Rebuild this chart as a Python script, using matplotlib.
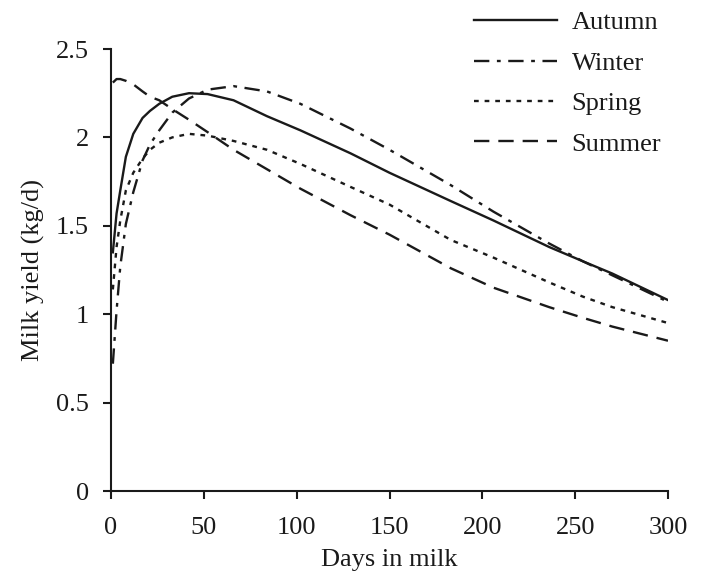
import numpy as np
import matplotlib
matplotlib.use('Agg')
import matplotlib.pyplot as plt

plt.rcParams['font.family'] = ['Liberation Serif', 'DejaVu Serif']
plt.rcParams['font.size'] = 19

# days in milk at which the curves were read
days = [1, 3, 5, 8, 12, 17, 21, 26, 33, 42, 52, 66, 84, 102, 129, 150, 183, 206, 236, 254, 270, 300]

autumn = [1.35, 1.57, 1.70, 1.89, 2.02, 2.11, 2.15, 2.19, 2.23, 2.25, 2.245, 2.21, 2.12, 2.04,
          1.91, 1.80, 1.64, 1.53, 1.38, 1.30, 1.23, 1.08]
winter = [0.72, 1.02, 1.27, 1.51, 1.69, 1.87, 1.96, 2.04, 2.14, 2.22, 2.27, 2.29, 2.26, 2.19,
          2.05, 1.93, 1.73, 1.58, 1.40, 1.30, 1.22, 1.07]
spring = [1.14, 1.38, 1.53, 1.70, 1.80, 1.88, 1.93, 1.97, 2.00, 2.02, 2.01, 1.98, 1.93, 1.85,
          1.72, 1.62, 1.42, 1.32, 1.18, 1.10, 1.04, 0.95]
summer = [2.31, 2.33, 2.33, 2.32, 2.30, 2.26, 2.23, 2.21, 2.16, 2.10, 2.03, 1.93, 1.82, 1.71,
          1.56, 1.45, 1.26, 1.15, 1.04, 0.98, 0.93, 0.85]

labels = ['Autumn', 'Winter', 'Spring', 'Summer']

fig = plt.figure(figsize=(7.06, 5.75), dpi=100)
ax = fig.add_axes([111 / 706, 1 - 491 / 575, 557 / 706, 442 / 575])

col = '#1a1a1a'
lw = 1.7
ax.plot(days, autumn, color=col, lw=lw, ls='-', label=labels[0])
ax.plot(days, winter, color=col, lw=lw, ls=(0, (6.5, 3.2, 1.6, 3.2)), label=labels[1])
ax.plot(days, spring, color=col, lw=lw, ls=(0, (2, 2.5)), label=labels[2])
ax.plot(days, summer, color=col, lw=lw, ls=(0, (6.5, 3.8)), label=labels[3])

ax.set_xlim(0, 300)
ax.set_ylim(0, 2.5)
ax.set_xticks([0, 50, 100, 150, 200, 250, 300])
ax.set_yticks([0, 0.5, 1, 1.5, 2, 2.5])
ax.set_yticklabels(['0', '0.5', '1', '1.5', '2', '2.5'])
ax.spines['top'].set_visible(False)
ax.spines['right'].set_visible(False)
for s in ('left', 'bottom'):
    ax.spines[s].set_linewidth(1.5)
    ax.spines[s].set_color(col)
ax.tick_params(direction='out', length=6, width=1.5, colors=col, labelcolor=col, labelsize=19)
ax.tick_params(axis='x', pad=13)
ax.tick_params(axis='y', pad=10)

ax.set_xlabel('Days in milk', fontsize=19, color=col, labelpad=7)
ax.set_ylabel('Milk yield (kg/d)', fontsize=19, color=col, labelpad=8)

fig.legend(loc='upper left', bbox_to_anchor=(474 / 706, 1 - 11 / 575), frameon=False,
           borderpad=0, borderaxespad=0, handlelength=3.15, handletextpad=0.55,
           labelspacing=0.64, fontsize=19, labelcolor=col)

fig.savefig('out.png', dpi=100)
